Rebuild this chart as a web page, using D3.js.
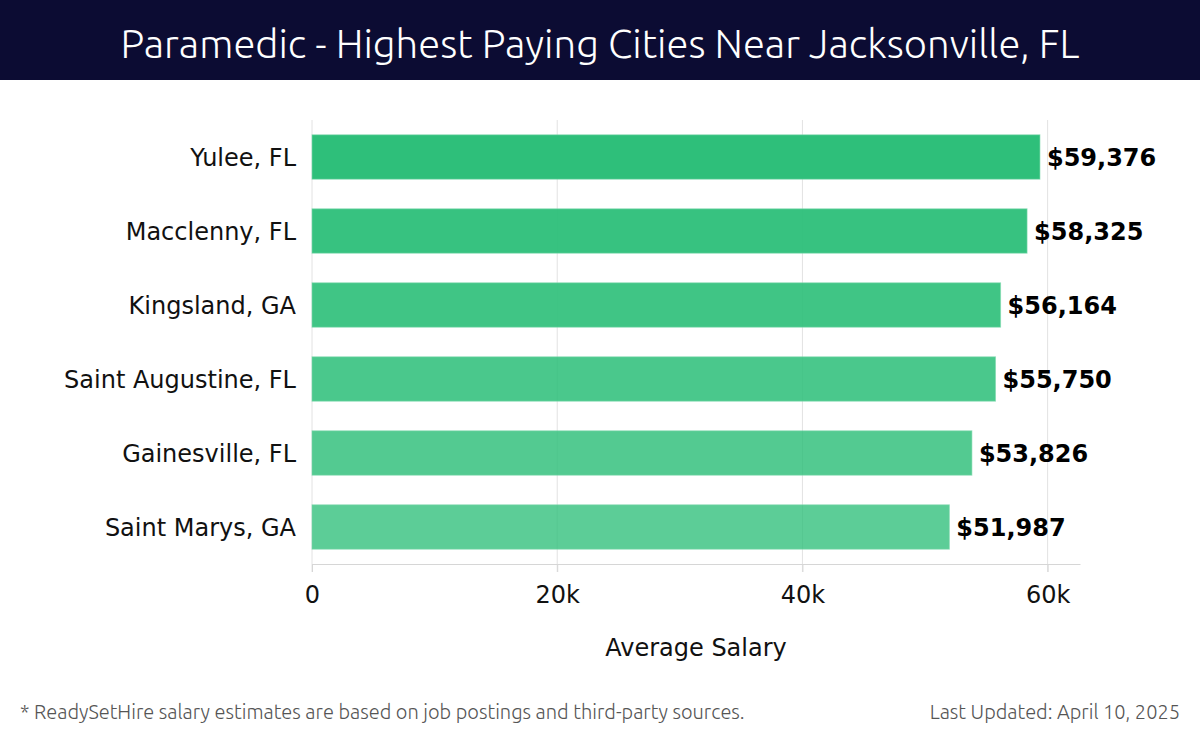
<!DOCTYPE html>
<html>
<head>
<meta charset="utf-8">
<script src="https://cdn.jsdelivr.net/npm/d3@7"></script>
<style>
  body { margin: 0; background: #fff; }
  svg { display: block; }
</style>
</head>
<body>
<div id="chart"></div>
<script>
// data
const cities = ["Yulee, FL", "Macclenny, FL", "Kingsland, GA", "Saint Augustine, FL", "Gainesville, FL", "Saint Marys, GA"];
const salaries = [59376, 58325, 56164, 55750, 53826, 51987];
const xTicks = [0, 20000, 40000, 60000];
const xTickLabels = ["0", "20k", "40k", "60k"];

const width = 1200;
const height = 740;
const margin = { top: 120, right: 120, bottom: 176, left: 312 };
const innerW = width - margin.left - margin.right;
const innerH = height - margin.top - margin.bottom;

const svg = d3.select("#chart")
    .append("svg")
    .attr("width", width)
    .attr("height", height);

// header band
svg.append("rect")
    .attr("width", width)
    .attr("height", 80)
    .attr("fill", "#0c0c33");

svg.append("text")
    .attr("x", width / 2)
    .attr("y", 58)
    .attr("text-anchor", "middle")
    .attr("fill", "#fff")
    .style("font-family", "Ubuntu, 'Open Sans', Lato, sans-serif")
    .style("font-weight", 300)
    .style("font-size", "40px")
    .text("Paramedic - Highest Paying Cities Near Jacksonville, FL");

const g = svg.append("g")
    .attr("transform", `translate(${margin.left},${margin.top})`);

const x = d3.scaleLinear()
    .domain([0, d3.max(salaries) * 1.055])
    .range([0, innerW]);

const y = d3.scaleBand()
    .domain(cities)
    .range([0, innerH])
    .paddingInner(0.4)
    .paddingOuter(0.2);

// grid lines
g.selectAll(".grid")
    .data(xTicks)
    .enter()
    .append("line")
    .attr("x1", d => x(d))
    .attr("x2", d => x(d))
    .attr("y1", 0)
    .attr("y2", innerH + 8)
    .attr("stroke", "#e2e2e2")
    .attr("stroke-width", 1);

// bottom axis
const xAxis = g.append("g")
    .attr("transform", `translate(0,${innerH})`)
    .call(d3.axisBottom(x)
        .tickValues(xTicks)
        .tickFormat((d, i) => xTickLabels[i])
        .tickSize(8)
        .tickSizeOuter(0));

xAxis.select(".domain").attr("stroke", "#d6d6d6");
xAxis.selectAll(".tick line").attr("stroke", "#d6d6d6");
xAxis.selectAll(".tick text")
    .attr("dy", "1.15em")
    .attr("fill", "#111")
    .style("font-family", "'DejaVu Sans', sans-serif")
    .style("font-size", "24px");

// bars
const opacity = d3.scaleLinear().domain([0, cities.length - 1]).range([1, 0.78]);

g.selectAll(".bar")
    .data(cities)
    .enter()
    .append("rect")
    .attr("class", "bar")
    .attr("x", 0)
    .attr("y", d => y(d))
    .attr("width", (d, i) => x(salaries[i]))
    .attr("height", y.bandwidth())
    .attr("fill", "#2ebf7a")
    .attr("fill-opacity", (d, i) => opacity(i))
    .attr("stroke", "#7fd9ae")
    .attr("stroke-opacity", 0.6)
    .attr("stroke-width", 1);

// value labels
g.selectAll(".value")
    .data(cities)
    .enter()
    .append("text")
    .attr("x", (d, i) => x(salaries[i]) + 7)
    .attr("y", d => y(d) + y.bandwidth() / 2)
    .attr("dy", "0.36em")
    .attr("fill", "#000")
    .style("font-family", "'DejaVu Sans', sans-serif")
    .style("font-weight", "bold")
    .style("font-size", "24px")
    .text((d, i) => "$" + d3.format(",")(salaries[i]));

// category labels
g.selectAll(".cat")
    .data(cities)
    .enter()
    .append("text")
    .attr("x", -16)
    .attr("y", d => y(d) + y.bandwidth() / 2)
    .attr("dy", "0.36em")
    .attr("text-anchor", "end")
    .attr("fill", "#111")
    .style("font-family", "'DejaVu Sans', sans-serif")
    .style("font-size", "24px")
    .text(d => d);

// axis title
svg.append("text")
    .attr("x", margin.left + innerW / 2)
    .attr("y", 656)
    .attr("text-anchor", "middle")
    .attr("fill", "#111")
    .style("font-family", "'DejaVu Sans', sans-serif")
    .style("font-size", "24px")
    .text("Average Salary");

// footer
svg.append("text")
    .attr("x", 20)
    .attr("y", 719)
    .attr("fill", "#555")
    .style("font-family", "Ubuntu, 'Open Sans', Lato, sans-serif")
    .style("font-weight", 300)
    .style("font-size", "20px")
    .text("* ReadySetHire salary estimates are based on job postings and third-party sources.");

svg.append("text")
    .attr("x", 1180)
    .attr("y", 719)
    .attr("text-anchor", "end")
    .attr("fill", "#555")
    .style("font-family", "Ubuntu, 'Open Sans', Lato, sans-serif")
    .style("font-weight", 300)
    .style("font-size", "20px")
    .text("Last Updated: April 10, 2025");
</script>
</body>
</html>
